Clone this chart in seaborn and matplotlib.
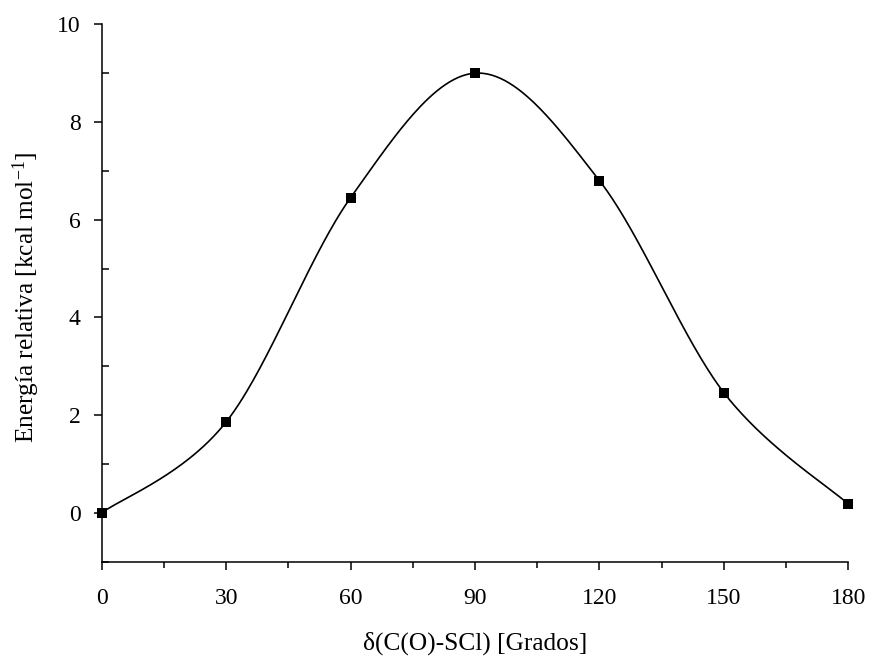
import numpy as np
import pandas as pd
import matplotlib
matplotlib.use("Agg")
import matplotlib.pyplot as plt
import seaborn as sns

angles = [0, 30, 60, 90, 120, 150, 180]
energies = [0.0, 1.86, 6.45, 9.0, 6.8, 2.46, 0.18]
xticks = [0, 30, 60, 90, 120, 150, 180]
yticks = [0, 2, 4, 6, 8, 10]

sns.set_theme(style="ticks")
plt.rcParams["font.family"] = ["Liberation Serif", "DejaVu Serif"]
plt.rcParams["mathtext.fontset"] = "custom"
plt.rcParams["mathtext.rm"] = "Liberation Serif"
plt.rcParams["mathtext.it"] = "Liberation Serif:italic"

W, H = 873, 661
X0, X1, Y0, Y1 = 101.7, 848.3, 561.7, 24.3


def smooth_curve(x, y, n=60):
    x = np.asarray(x, float)
    y = np.asarray(y, float)
    xs, ys = [], []
    for i in range(len(x) - 1):
        p0 = np.array([x[i - 1], y[i - 1]]) if i > 0 else np.array([x[i], y[i]])
        p1 = np.array([x[i], y[i]])
        p2 = np.array([x[i + 1], y[i + 1]])
        p3 = np.array([x[i + 2], y[i + 2]]) if i + 2 < len(x) else p2
        c1 = p1 + (p2 - p0) / 6.0
        c2 = p2 - (p3 - p1) / 6.0
        t = np.linspace(0, 1, n)[:, None]
        pts = ((1 - t) ** 3) * p1 + 3 * ((1 - t) ** 2) * t * c1 + 3 * (1 - t) * t ** 2 * c2 + t ** 3 * p2
        xs.extend(pts[:, 0])
        ys.extend(pts[:, 1])
    return np.array(xs), np.array(ys)


cx, cy = smooth_curve(angles, energies)
curve = pd.DataFrame({"x": cx, "y": cy})
pts = pd.DataFrame({"x": angles, "y": energies})

fig = plt.figure(figsize=(W / 100, H / 100), dpi=100)
ax = fig.add_axes([X0 / W, 1 - Y0 / H, (X1 - X0) / W, (Y0 - Y1) / H])

sns.lineplot(data=curve, x="x", y="y", sort=False, color="black", lw=1.2, ax=ax, estimator=None)
sns.scatterplot(data=pts, x="x", y="y", marker="s", s=55, color="black", edgecolor="black", linewidth=0, ax=ax, zorder=5, clip_on=False)

ax.set_xlim(0, 180)
ax.set_ylim(-1, 10)
ax.set_xticks(xticks)
ax.set_yticks(yticks)
ax.set_xticks([15, 45, 75, 105, 135, 165], minor=True)
ax.set_yticks([-1, 1, 3, 5, 7, 9], minor=True)
tick_fs = 17
ax.tick_params(axis="both", which="major", direction="out", length=6, width=1.1, labelsize=tick_fs, color="black", labelcolor="black")
ax.tick_params(axis="x", which="major", pad=13, length=6)
ax.tick_params(axis="y", which="major", pad=9)
ax.tick_params(axis="x", which="minor", direction="out", length=4, width=1.1, color="black")
ax.tick_params(axis="y", which="minor", direction="in", length=5, width=1.1, color="black")

for s in ["top", "right"]:
    ax.spines[s].set_visible(False)
for s in ["left", "bottom"]:
    ax.spines[s].set_color("black")
    ax.spines[s].set_linewidth(1.1)

ax.set_xlabel("δ(C(O)-SCl) [Grados]", fontsize=17, color="black", va="center", ha="center")
ax.set_ylabel("Energía relativa [kcal mol$^{\\mathregular{-1}}$]", fontsize=17, color="black", va="center", ha="center")
ax.xaxis.set_label_coords((475 - X0) / (X1 - X0), (Y0 - 643) / (Y0 - Y1))
ax.yaxis.set_label_coords((26 - X0) / (X1 - X0), (Y0 - 297) / (Y0 - Y1))

xl = ax.xaxis.label
yl = ax.yaxis.label
r = fig.canvas.get_renderer()
for _ in range(3):
    bx = xl.get_window_extent(r)
    xl.set_fontsize(xl.get_fontsize() * 224 / bx.width)
    by = yl.get_window_extent(r)
    yl.set_fontsize(yl.get_fontsize() * 291 / by.height)

fig.savefig("out.png", dpi=100)
